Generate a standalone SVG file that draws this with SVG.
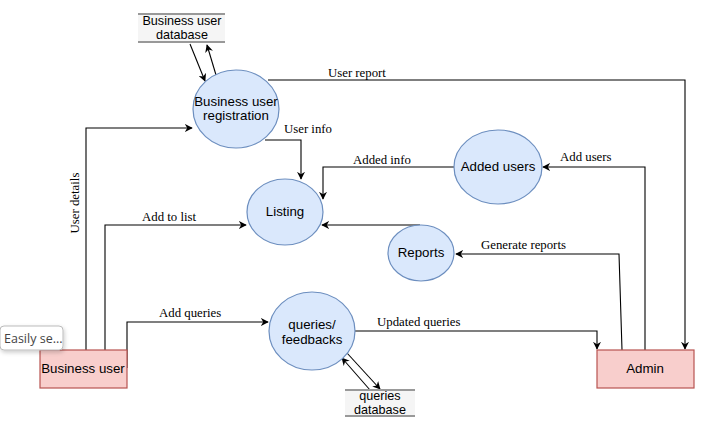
<svg xmlns="http://www.w3.org/2000/svg" width="711" height="421" viewBox="0 0 711 421">
<defs>
<marker id="ah" viewBox="0 0 10 10" refX="9" refY="5" markerWidth="8" markerHeight="8" orient="auto-start-reverse" markerUnits="userSpaceOnUse">
<path d="M0,0 L10,5 L0,10 L3,5 Z" fill="#000"/>
</marker>
<filter id="sh" x="-20%" y="-30%" width="150%" height="170%"><feDropShadow dx="1" dy="2" stdDeviation="2" flood-color="#000" flood-opacity="0.2"/></filter>
</defs>
<style>
.proc{fill:#dae8fc;stroke:#6c8ebf;stroke-width:1.2}
.ent{fill:#f8cecc;stroke:#b85450;stroke-width:1.2}
.store{fill:#f5f5f5;stroke:none}
.sline{stroke:#999;stroke-width:2}
.nt{font-family:"Liberation Sans",Arial,sans-serif;font-size:13.3px;fill:#000;text-anchor:middle}
.st{font-family:"Liberation Sans",Arial,sans-serif;font-size:12.6px;fill:#000;text-anchor:middle}
.lbl{font-family:"Liberation Serif","Times New Roman",serif;font-size:12.8px;fill:#000}
.ca{fill:none;stroke:#000;stroke-width:1.1;marker-end:url(#ah)}
</style>
<rect width="711" height="421" fill="#fff"/>

<g id="connectors">
<polyline class="ca" points="268,80 685,80 685,349"/>
<polyline class="ca" points="265,140 301,140 301,179"/>
<polyline class="ca" points="454,167 323,167 323,199"/>
<polyline class="ca" points="420,225 322,225"/>
<polyline class="ca" points="645,350 645,167 543,167"/>
<polyline class="ca" points="622,350 619,254 456,254"/>
<polyline class="ca" points="86,350 86,128 192,128"/>
<polyline class="ca" points="105,350 105,225 246,225"/>
<polyline class="ca" points="127,368 127,322 268,322"/>
<polyline class="ca" points="355,331 597,331 597,349"/>
<line class="ca" x1="190" y1="44" x2="205" y2="81"/>
<line class="ca" x1="216" y1="75" x2="207" y2="45"/>
<line class="ca" x1="347" y1="353" x2="380" y2="389"/>
<line class="ca" x1="370" y1="390" x2="342" y2="358"/>
<text class="lbl" x="328" y="77">User report</text>
<text class="lbl" x="284" y="133">User info</text>
<text class="lbl" x="353" y="164">Added info</text>
<text class="lbl" x="560" y="161">Add users</text>
<text class="lbl" x="481" y="249">Generate reports</text>
<text class="lbl" x="142" y="221">Add to list</text>
<text class="lbl" x="159" y="317">Add queries</text>
<text class="lbl" x="377" y="326">Updated queries</text>
<text class="lbl" transform="translate(79,203) rotate(-90)" text-anchor="middle">User details</text>
</g>

<g id="business-user-database">
<rect class="store" x="138" y="14" width="87" height="29"/>
<line class="sline" x1="138" y1="14" x2="225" y2="14"/>
<line class="sline" x1="138" y1="42" x2="225" y2="42"/>
<text class="st" x="182" y="25">Business user</text>
<text class="st" x="182" y="39">database</text>
</g>

<g id="business-user-registration">
<ellipse class="proc" cx="236" cy="109" rx="43" ry="39"/>
<text class="nt" x="236" y="106">Business user</text>
<text class="nt" x="236" y="120">registration</text>
</g>

<g id="listing">
<ellipse class="proc" cx="285" cy="212" rx="38" ry="33"/>
<text class="nt" x="285" y="216">Listing</text>
</g>

<g id="added-users">
<ellipse class="proc" cx="498" cy="167" rx="44" ry="37"/>
<text class="nt" x="498" y="171">Added users</text>
</g>

<g id="reports">
<ellipse class="proc" cx="421" cy="253" rx="33" ry="28"/>
<text class="nt" x="421" y="257">Reports</text>
</g>

<g id="queries-feedbacks">
<ellipse class="proc" cx="312" cy="331" rx="43" ry="39"/>
<text class="nt" x="312" y="329">queries/</text>
<text class="nt" x="312" y="344">feedbacks</text>
</g>

<g id="queries-database">
<rect class="store" x="345" y="390" width="70" height="26"/>
<line class="sline" x1="345" y1="390" x2="415" y2="390"/>
<line class="sline" x1="345" y1="416" x2="415" y2="416"/>
<text class="st" x="380" y="400">queries</text>
<text class="st" x="380" y="414">database</text>
</g>

<g id="business-user">
<rect class="ent" x="40" y="350" width="87" height="38"/>
<text class="nt" x="83" y="373">Business user</text>
</g>

<g id="admin">
<rect class="ent" x="597" y="350" width="97" height="38"/>
<text class="nt" x="645" y="373">Admin</text>
</g>

<g id="tooltip">
<rect x="0" y="326" width="63" height="24" rx="4" fill="#fff" stroke="#bbb" filter="url(#sh)"/>
<text x="4" y="343" font-family="'Open Sans','Noto Sans',sans-serif" font-size="12.5" fill="#444">Easily se...</text>
</g>
</svg>
